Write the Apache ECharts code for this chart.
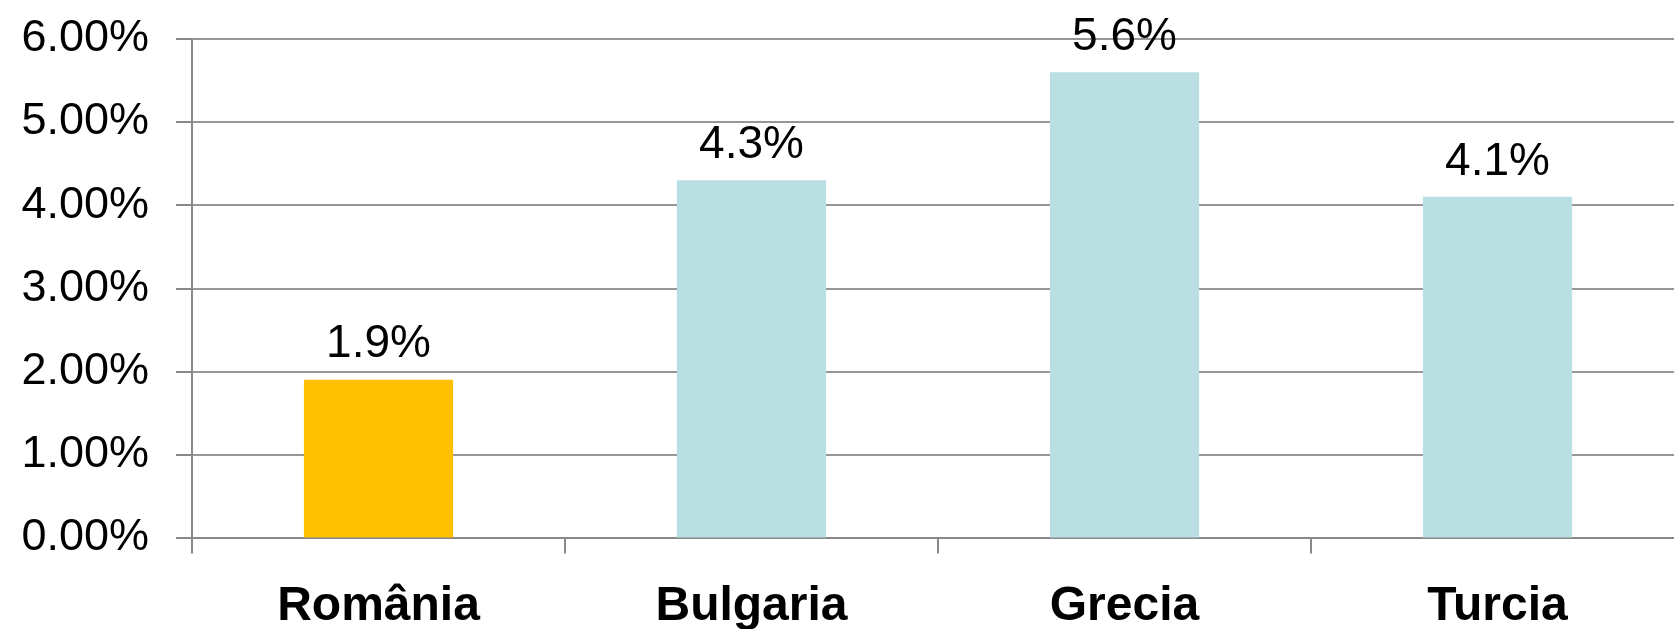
<!DOCTYPE html>
<html>
<head>
<meta charset="utf-8">
<script src="https://cdn.jsdelivr.net/npm/echarts@6/dist/echarts.min.js"></script>
<style>
html,body{margin:0;padding:0;background:#fff;overflow:hidden;width:1674px;height:629px;}
#c{width:1700px;height:629px;}
</style>
</head>
<body>
<div id="c"></div>
<script>
const categories = ['România', 'Bulgaria', 'Grecia', 'Turcia'];
const values = [1.9, 4.3, 5.6, 4.1];
const yTicks = [0, 1, 2, 3, 4, 5, 6];
const highlighted = 'România';

const FONT = '"Liberation Sans", Arial, sans-serif';
const chart = echarts.init(document.getElementById('c'));
chart.setOption({
  animation: false,
  backgroundColor: '#ffffff',
  grid: { left: 192, top: 39, bottom: 91.5, width: 1492, containLabel: false, outerBoundsMode: 'none' },
  xAxis: {
    type: 'category',
    data: categories,
    boundaryGap: true,
    axisLine: { show: true, lineStyle: { color: '#888888', width: 2 } },
    axisTick: { show: true, length: 16, lineStyle: { color: '#888888', width: 2 } },
    axisLabel: { margin: 45, fontFamily: FONT, fontSize: 48, fontWeight: 'bold', color: '#000000' }
  },
  yAxis: {
    type: 'value',
    min: yTicks[0],
    max: yTicks[yTicks.length - 1],
    interval: 1,
    axisLine: { show: true, lineStyle: { color: '#888888', width: 2 } },
    axisTick: { show: true, length: 16, lineStyle: { color: '#888888', width: 2 } },
    splitLine: { show: true, lineStyle: { color: '#969696', width: 2 } },
    axisLabel: {
      margin: 43, fontFamily: FONT, fontSize: 45, color: '#000000',
      overflow: 'none',
      padding: [0, 0, 8, 0],
      formatter: v => v.toFixed(2) + '%'
    }
  },
  series: [{
    type: 'bar',
    data: values,
    barWidth: '40%',
    itemStyle: {
      color: p => p.name === highlighted ? '#FFC000' : '#BADFE2'
    },
    label: {
      show: true, position: 'top', distance: 12,
      fontFamily: FONT, fontSize: 46, color: '#000000',
      formatter: p => p.value.toFixed(1) + '%'
    }
  }]
});
</script>
</body>
</html>
